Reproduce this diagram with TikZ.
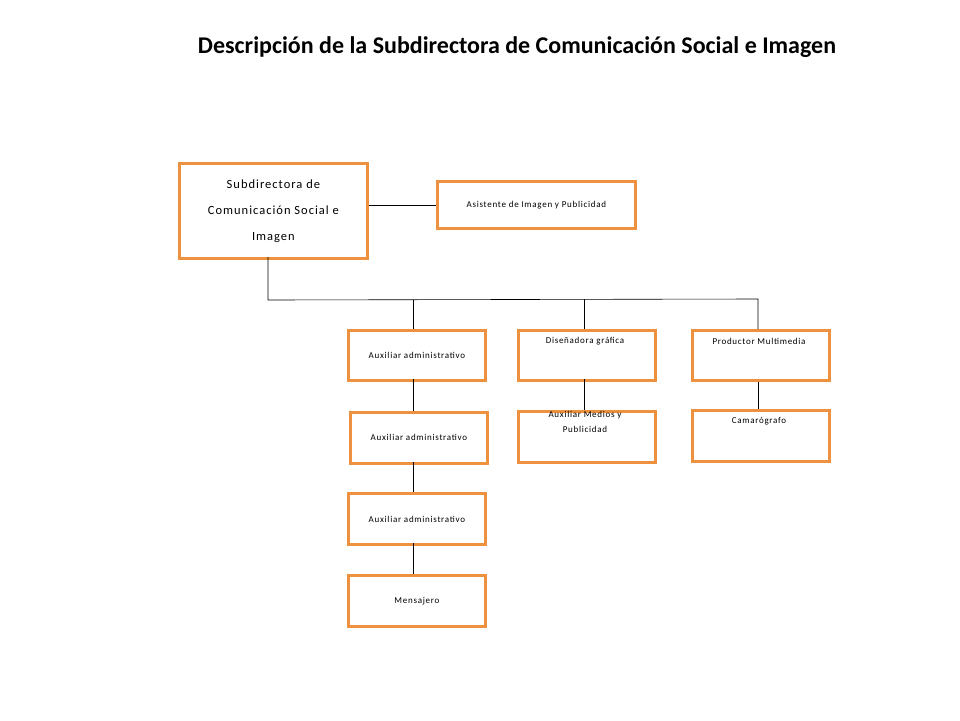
\documentclass[tikz,border=0pt]{standalone}
\usepackage{fontspec}
\setmainfont{Carlito}
\newfontfamily\spaced[LetterSpace=8]{Carlito}
\begin{document}
\begin{tikzpicture}[x=1pt,y=-1pt,
  box/.style={draw={rgb,255:red,237;green,145;blue,62},line width=2.8pt,anchor=north west,inner sep=0pt},
  lab/.style={font=\spaced\fontsize{9}{11}\selectfont,align=center},
  ln/.style={draw=black,line width=0.6pt}]
\useasboundingbox (0,0) rectangle (960,720);
\node[font=\bfseries\fontsize{24}{28}\selectfont] (title) at (517,47) {Descripción de la Subdirectora de Comunicación Social e Imagen};
\node[box,minimum width=188,minimum height=95] (main) at (178,162) {};
\node[font=\spaced\fontsize{12.5}{26}\selectfont,align=center] at (main.center) {Subdirectora de\\Comunicación Social e\\Imagen};
\node[box,minimum width=198,minimum height=47] (asis) at (436,180) {};
\node[lab] at (asis.center) {Asistente de Imagen y Publicidad};
\node[box,minimum width=137,minimum height=50] (a1) at (347,329) {};
\node[lab] at (a1.center) {Auxiliar administrativo};
\node[box,minimum width=137,minimum height=50] (dis) at (517,329) {};
\node[lab] at (585,341) {Diseñadora gráfica};
\node[box,minimum width=137,minimum height=50] (pro) at (691,329) {};
\node[lab] at (759,341) {Productor Multimedia};
\node[box,minimum width=137,minimum height=51] (a2) at (349,411) {};
\node[lab] at (a2.center) {Auxiliar administrativo};
\node[box,minimum width=137,minimum height=51] (med) at (517,410) {};
\node[lab,font=\spaced\fontsize{9}{15}\selectfont] at (585,422) {Auxiliar Medios y\\Publicidad};
\node[box,minimum width=137,minimum height=51] (cam) at (691,409) {};
\node[lab] at (759,421) {Camarógrafo};
\node[box,minimum width=137,minimum height=51] (a3) at (347,492) {};
\node[lab] at (a3.center) {Auxiliar administrativo};
\node[box,minimum width=137,minimum height=51] (men) at (347,574) {};
\node[lab] at (men.center) {Mensajero};
\coordinate (j0) at (268,300);
\coordinate (j3) at (758,299);
\draw[ln] (main.east |- asis.west) -- (asis.west);
\draw[ln] (268,257) -- (j0) -- (j3) -- (758,329);
\draw[ln] (413,299.7) -- (413,329);
\draw[ln] (584,299.3) -- (584,329);
\draw[ln] (413,379) -- (413,411);
\draw[ln] (584,379) -- (584,410);
\draw[ln] (758,382) -- (758,409);
\draw[ln] (413,462) -- (413,492);
\draw[ln] (413,543) -- (413,574);
\end{tikzpicture}
\end{document}
